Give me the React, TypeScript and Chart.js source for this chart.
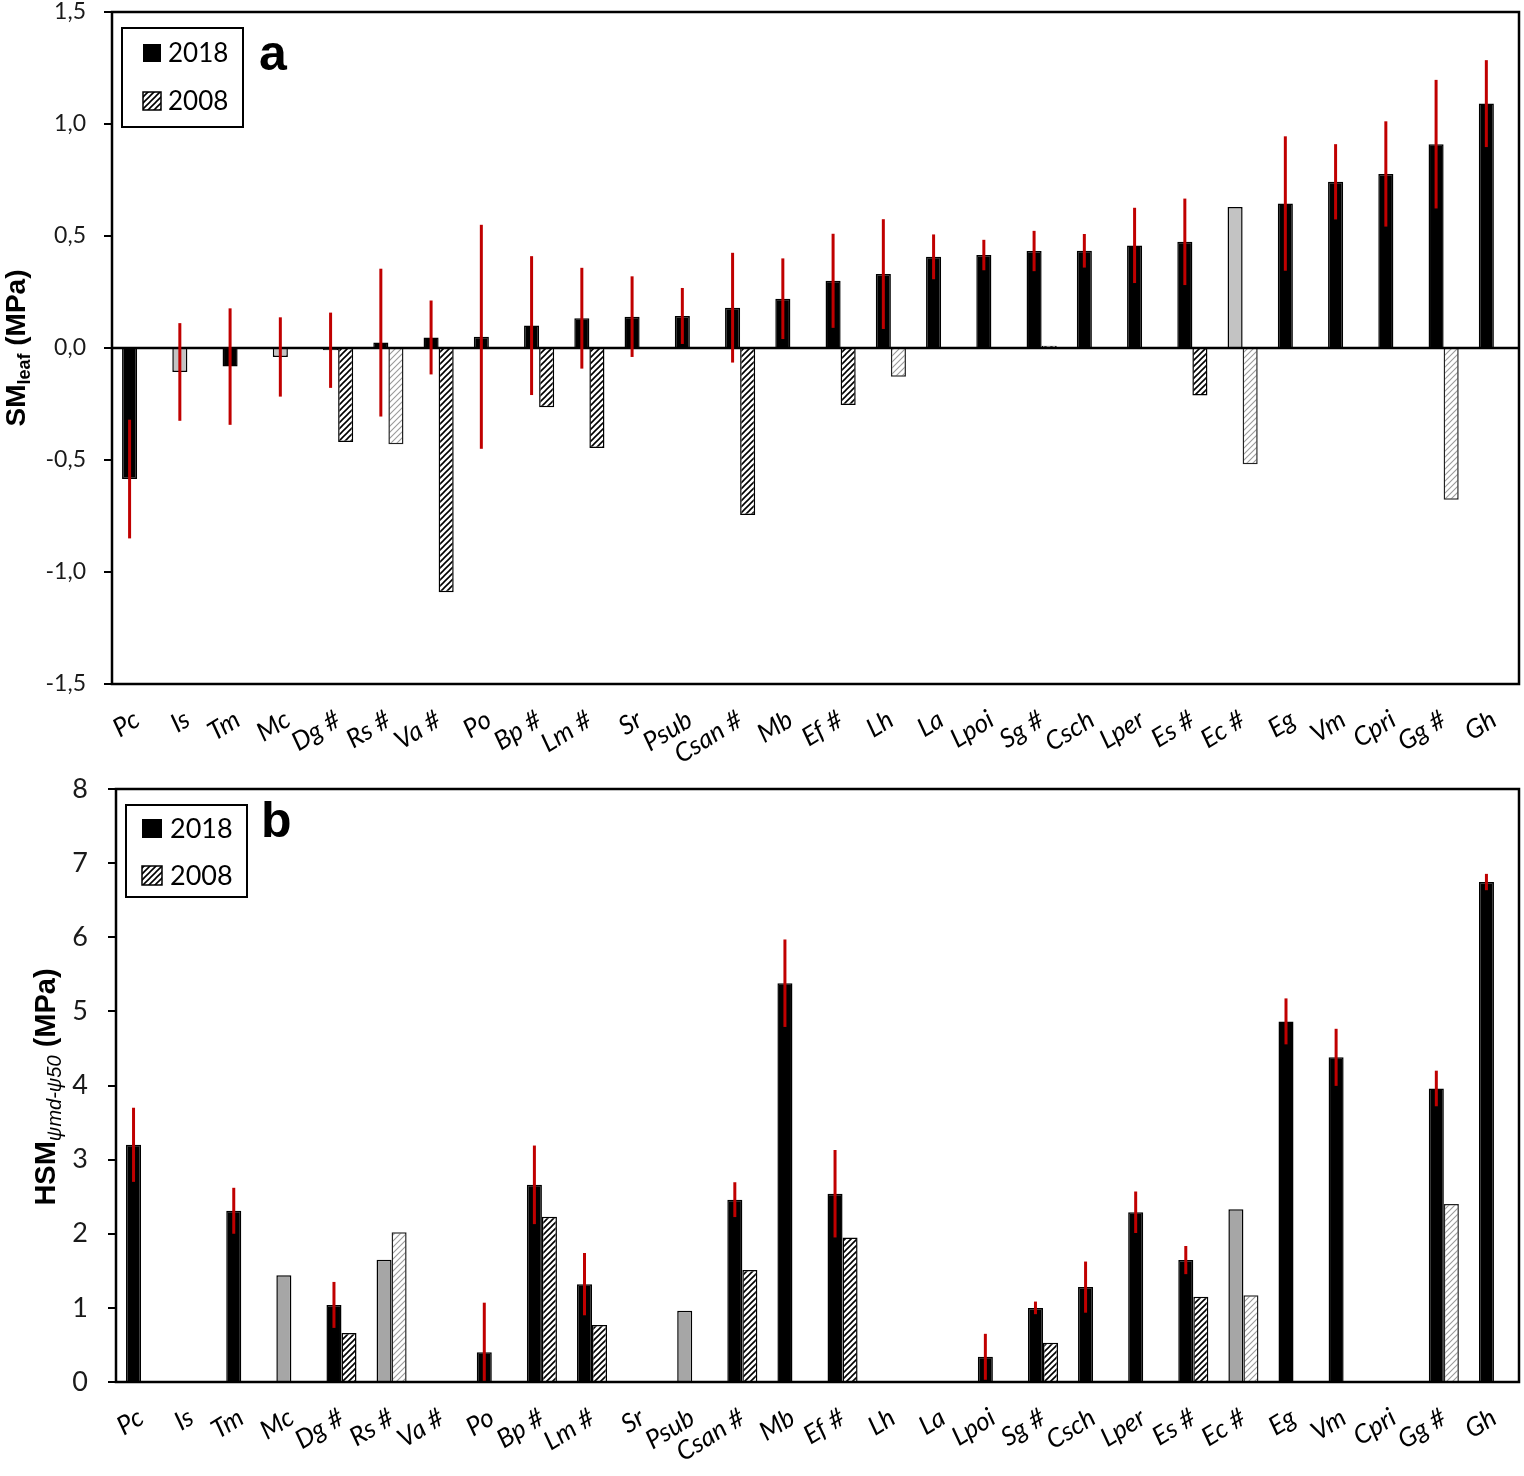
import React, { useEffect, useRef } from 'react';
import { Chart, registerables } from 'chart.js';
Chart.register(...registerables);

// ---------- data ----------
const categories = ['Pc', 'Is', 'Tm', 'Mc', 'Dg #', 'Rs #', 'Va #', 'Po', 'Bp #', 'Lm #', 'Sr', 'Psub', 'Csan #', 'Mb', 'Ef #', 'Lh', 'La', 'Lpoi', 'Sg #', 'Csch', 'Lper', 'Es #', 'Ec #', 'Eg', 'Vm', 'Cpri', 'Gg #', 'Gh'];

// panel a: SM leaf (MPa)
const smLeaf2018 = [-0.585, -0.107, -0.083, -0.04, -0.01, 0.024, 0.047, 0.05, 0.10, 0.133, 0.14, 0.143, 0.18, 0.22, 0.30, 0.33, 0.407, 0.415, 0.433, 0.434, 0.458, 0.474, 0.629, 0.645, 0.742, 0.777, 0.91, 1.091];
const smLeaf2018Err = [0.265, 0.218, 0.26, 0.177, 0.168, 0.33, 0.165, 0.5, 0.31, 0.225, 0.18, 0.125, 0.245, 0.18, 0.21, 0.245, 0.1, 0.068, 0.09, 0.075, 0.168, 0.193, null, 0.30, 0.168, 0.235, 0.287, 0.194];
const smLeaf2008 = [null, null, null, null, -0.42, -0.43, -1.09, null, -0.265, -0.446, null, null, -0.745, null, -0.254, -0.128, null, null, 0.01, null, null, -0.212, -0.519, null, null, null, -0.678, null];
const smGrey2018 = ['Is', 'Mc', 'Ec #'];
const smLight2008 = ['Rs #', 'Lh', 'Ec #', 'Gg #'];
const smTicks = [-1.5, -1.0, -0.5, 0, 0.5, 1.0, 1.5];

// panel b: HSM psi_md - psi_50 (MPa)
const hsm2018 = [3.2, null, 2.31, 1.44, 1.04, 1.65, null, 0.40, 2.66, 1.32, null, 0.96, 2.46, 5.38, 2.54, null, null, 0.34, 1.0, 1.28, 2.29, 1.645, 2.33, 4.865, 4.38, null, 3.96, 6.745];
const hsm2018Err = [0.5, null, 0.31, null, 0.31, null, null, 0.67, 0.53, 0.42, null, null, 0.235, 0.59, 0.59, null, null, 0.31, 0.085, 0.345, 0.28, 0.19, null, 0.31, 0.385, null, 0.24, 0.11];
const hsm2008 = [null, null, null, null, 0.66, 2.02, null, null, 2.23, 0.77, null, null, 1.51, null, 1.95, null, null, null, 0.53, null, null, 1.15, 1.17, null, null, null, 2.40, null];
const hsmGrey2018 = ['Mc', 'Rs #', 'Psub', 'Ec #'];
const hsmLight2008 = ['Rs #', 'Ec #', 'Gg #'];
const hsmTicks = [0, 1, 2, 3, 4, 5, 6, 7, 8];

const legendLabels = ['2018', '2008'];

// ---------- helpers ----------
function makeHatch(ctx: CanvasRenderingContext2D, color: string, lw: number) {
  const s = 6;
  const c = document.createElement('canvas');
  c.width = s; c.height = s;
  const g = c.getContext('2d')!;
  g.fillStyle = '#fff';
  g.fillRect(0, 0, s, s);
  g.strokeStyle = color;
  g.lineWidth = lw;
  g.beginPath();
  g.moveTo(-1, s + 1); g.lineTo(s + 1, -1);
  g.moveTo(-1, 1); g.lineTo(1, -1);
  g.moveTo(s - 1, s + 1); g.lineTo(s + 1, s - 1);
  g.stroke();
  return ctx.createPattern(c, 'repeat')!;
}

type Part = { t: string; font: string; dy: number };

interface PanelCfg {
  values: (number | null)[];
  errors: (number | null)[];
  zeroLine: boolean;
  legend: { box: [number, number, number, number]; sq: number; sqH: number; sqX: number; y1: number; y2: number; textX: number; font: string; base1: number; base2: number };
  letter: { t: string; x: number; y: number };
  title: { x: number; y: number; parts: Part[] };
  hatch: CanvasPattern;
}

function decorPlugin(cfg: PanelCfg) {
  return {
    id: 'decor',
    afterDatasetsDraw(chart: any) {
      const { ctx, chartArea: a, scales } = chart;
      const ys = scales.y;
      ctx.save();
      // zero line
      if (cfg.zeroLine) {
        const y0 = Math.round(ys.getPixelForValue(0));
        ctx.strokeStyle = '#000';
        ctx.lineWidth = 2.5;
        ctx.beginPath();
        ctx.moveTo(a.left, y0);
        ctx.lineTo(a.right, y0);
        ctx.stroke();
      }
      // error bars
      const meta = chart.getDatasetMeta(0);
      ctx.save();
      ctx.beginPath();
      ctx.rect(a.left, a.top, a.right - a.left, a.bottom - a.top);
      ctx.clip();
      ctx.strokeStyle = '#c00000';
      ctx.lineWidth = 3;
      cfg.values.forEach((v, i) => {
        const e = cfg.errors[i];
        if (v == null || e == null) return;
        const x = meta.data[i].x;
        ctx.beginPath();
        ctx.moveTo(x, ys.getPixelForValue(v + e));
        ctx.lineTo(x, ys.getPixelForValue(v - e));
        ctx.stroke();
      });
      ctx.restore();
      // frame
      ctx.strokeStyle = '#000';
      ctx.lineWidth = 2.5;
      ctx.strokeRect(a.left, a.top, a.right - a.left, a.bottom - a.top);
      // legend
      const L = cfg.legend;
      ctx.lineWidth = 2;
      ctx.strokeRect(L.box[0], L.box[1], L.box[2], L.box[3]);
      ctx.fillStyle = '#000';
      ctx.fillRect(L.sqX, L.y1, L.sq, L.sqH);
      ctx.fillStyle = cfg.hatch;
      ctx.fillRect(L.sqX, L.y2, L.sq, L.sqH);
      ctx.lineWidth = 1.5;
      ctx.strokeRect(L.sqX, L.y2, L.sq, L.sqH);
      ctx.fillStyle = '#000';
      ctx.font = L.font;
      ctx.textBaseline = 'alphabetic';
      ctx.textAlign = 'left';
      ctx.fillText(legendLabels[0], L.textX, L.base1);
      ctx.fillText(legendLabels[1], L.textX, L.base2);
      // panel letter
      ctx.font = 'bold 50px "Liberation Sans", Arial, sans-serif';
      ctx.fillText(cfg.letter.t, cfg.letter.x, cfg.letter.y);
      // axis title
      const T = cfg.title;
      let total = 0;
      const widths = T.parts.map((p) => { ctx.font = p.font; const w = ctx.measureText(p.t).width; total += w; return w; });
      ctx.translate(T.x, T.y);
      ctx.rotate(-Math.PI / 2);
      let cx = -total / 2;
      T.parts.forEach((p, i) => {
        ctx.font = p.font;
        ctx.fillText(p.t, cx, p.dy);
        cx += widths[i];
      });
      ctx.restore();
    },
  };
}

function buildChart(canvas: HTMLCanvasElement, opts: {
  d2018: (number | null)[]; err: (number | null)[]; d2008: (number | null)[];
  grey: string[]; greyColor: string; light: string[];
  min: number; max: number; ticks: number[]; fmt: (v: number) => string;
  yFont: number; yPad: number; yWidth: number; xHeight: number; padTop: number;
  zeroLine: boolean; legend: PanelCfg['legend']; letter: PanelCfg['letter']; title: PanelCfg['title'];
}) {
  const ctx = canvas.getContext('2d')!;
  const dark = makeHatch(ctx, '#000', 1.6);
  const lightP = makeHatch(ctx, '#9a9a9a', 1.1);
  const bg2018 = categories.map((c) => (opts.grey.includes(c) ? opts.greyColor : '#000'));
  const bg2008 = categories.map((c) => (opts.light.includes(c) ? lightP : dark));
  const bd2008 = categories.map((c) => (opts.light.includes(c) ? '#222' : '#000'));
  return new Chart(canvas, {
    type: 'bar',
    data: {
      labels: categories,
      datasets: [
        { label: legendLabels[0], data: opts.d2018, backgroundColor: bg2018, borderColor: '#000', borderWidth: 1.5, categoryPercentage: 0.6, barPercentage: 1 } as any,
        { label: legendLabels[1], data: opts.d2008, backgroundColor: bg2008 as any, borderColor: bd2008, borderWidth: 1.5, categoryPercentage: 0.6, barPercentage: 1 } as any,
      ],
    },
    options: {
      animation: false,
      responsive: false,
      devicePixelRatio: 1,
      layout: { padding: { top: opts.padTop, right: 5, left: 0, bottom: 0 } },
      plugins: { legend: { display: false }, tooltip: { enabled: false }, title: { display: false } },
      scales: {
        x: {
          grid: { display: false },
          border: { display: false },
          ticks: {
            color: '#000',
            font: { family: 'Lato, "Open Sans", sans-serif', size: 26, style: 'italic' },
            minRotation: 32,
            maxRotation: 32,
            autoSkip: false,
            padding: 12,
          },
          afterFit: (s: any) => { s.height = opts.xHeight; s.paddingTop = 0; s.paddingBottom = 0; },
        },
        y: {
          min: opts.min,
          max: opts.max,
          afterBuildTicks: (s: any) => { s.ticks = opts.ticks.map((v) => ({ value: v })); },
          ticks: {
            color: '#1a1a1a',
            font: { family: 'Lato, "Open Sans", sans-serif', size: opts.yFont },
            padding: opts.yPad,
            callback: (v: any) => opts.fmt(Number(v)),
          },
          grid: { drawOnChartArea: false, drawTicks: true, tickLength: 8, color: '#000', lineWidth: 2 },
          border: { display: false },
          afterFit: (s: any) => { s.width = opts.yWidth; s.paddingTop = 0; s.paddingBottom = 0; },
        },
      },
    },
    plugins: [decorPlugin({ values: opts.d2018, errors: opts.err, zeroLine: opts.zeroLine, legend: opts.legend, letter: opts.letter, title: opts.title, hatch: dark })],
  } as any);
}

export default function App() {
  const refA = useRef<HTMLCanvasElement>(null);
  const refB = useRef<HTMLCanvasElement>(null);

  useEffect(() => {
    const bold = (s: number) => `bold ${s}px "Liberation Sans", Arial, sans-serif`;
    const chA = buildChart(refA.current!, {
      d2018: smLeaf2018, err: smLeaf2018Err, d2008: smLeaf2008,
      grey: smGrey2018, greyColor: '#c3c3c3', light: smLight2008,
      min: -1.5, max: 1.5, ticks: smTicks,
      fmt: (v) => v.toFixed(1).replace('.', ','),
      yFont: 23, yPad: 18, yWidth: 112, xHeight: 86, padTop: 12,
      zeroLine: true,
      legend: { box: [122, 28, 121, 99], sq: 18, sqH: 18, sqX: 143, y1: 44, y2: 92, textX: 168, font: '26px Lato, "Open Sans", sans-serif', base1: 62, base2: 110 },
      letter: { t: 'a', x: 259, y: 70 },
      title: { x: 25, y: 348, parts: [
        { t: 'SM', font: bold(28), dy: 0 },
        { t: 'leaf', font: bold(18), dy: 5 },
        { t: ' (MPa)', font: bold(28), dy: 0 },
      ] },
    });
    const chB = buildChart(refB.current!, {
      d2018: hsm2018, err: hsm2018Err, d2008: hsm2008,
      grey: hsmGrey2018, greyColor: '#a6a6a6', light: hsmLight2008,
      min: 0, max: 8, ticks: hsmTicks,
      fmt: (v) => String(v),
      yFont: 27, yPad: 20, yWidth: 116, xHeight: 94, padTop: 19,
      zeroLine: false,
      legend: { box: [126, 35, 121, 92], sq: 20, sqH: 19, sqX: 142, y1: 49, y2: 96, textX: 170, font: '27px Lato, "Open Sans", sans-serif', base1: 68, base2: 115 },
      letter: { t: 'b', x: 261, y: 67 },
      title: { x: 55, y: 317, parts: [
        { t: 'HSM', font: bold(29), dy: 0 },
        { t: 'ψmd-ψ50', font: 'italic 20px "Liberation Sans", Arial, sans-serif', dy: 6 },
        { t: ' (MPa)', font: bold(29), dy: 0 },
      ] },
    });
    return () => { chA.destroy(); chB.destroy(); };
  }, []);

  return (
    <div style={{ position: 'absolute', left: 0, top: 0, width: 1524, height: 1476, background: '#fff' }}>
      <canvas ref={refA} width={1524} height={770} style={{ position: 'absolute', left: 0, top: 0, width: 1524, height: 770 }} />
      <canvas ref={refB} width={1524} height={706} style={{ position: 'absolute', left: 0, top: 770, width: 1524, height: 706 }} />
    </div>
  );
}
